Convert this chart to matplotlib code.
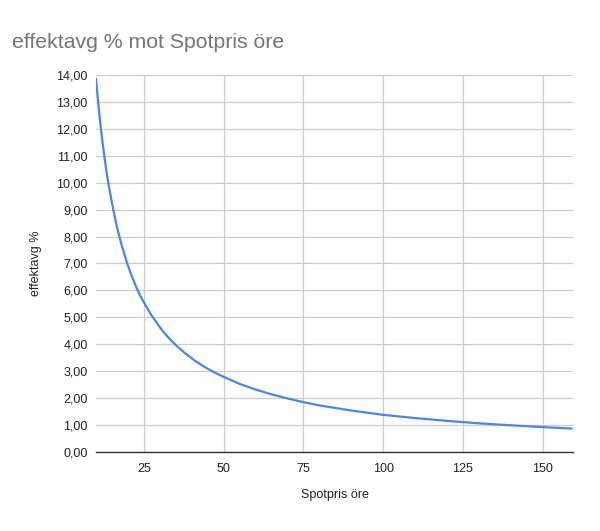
import matplotlib.pyplot as plt
from matplotlib.ticker import FuncFormatter

plt.rcParams['font.family'] = ['Liberation Sans', 'DejaVu Sans']

# values
spotpris = [10, 10.5, 11, 11.5, 12, 12.5, 13, 13.5, 14, 15, 16, 17, 18, 19, 20, 21, 22,
            23, 24, 25, 27, 29, 31, 33, 35, 38, 41, 44, 47, 50, 55, 60, 65, 70, 75, 80,
            90, 100, 110, 120, 130, 140, 150, 159]
effektavg = [13.85, 13.2, 12.6, 12.05, 11.55, 11.1, 10.65, 10.25, 9.9, 9.25, 8.66, 8.15,
             7.7, 7.3, 6.93, 6.6, 6.3, 6.02, 5.77, 5.56, 5.15, 4.8, 4.48, 4.21, 3.97,
             3.66, 3.39, 3.16, 2.96, 2.79, 2.53, 2.32, 2.14, 1.99, 1.85, 1.73, 1.54,
             1.38, 1.26, 1.155, 1.065, 0.99, 0.925, 0.87]

x_ticks = [25, 50, 75, 100, 125, 150]
y_ticks = list(range(0, 15))

fig = plt.figure(figsize=(6, 5.31), dpi=100)
ax = fig.add_axes([0.16, 0.1488, 0.795, 0.71])

ax.plot(spotpris, effektavg, color='#4a86e8', linewidth=1.6,
        solid_joinstyle='round')

ax.set_xlim(10, 159.5)
ax.set_ylim(0, 14)
ax.set_xticks(x_ticks)
ax.set_yticks(y_ticks)
ax.yaxis.set_major_formatter(FuncFormatter(lambda v, p: f'{v:.2f}'.replace('.', ',')))

ax.grid(True, color='#cccccc', linewidth=0.9)
ax.set_axisbelow(True)
for side in ['top', 'right', 'left']:
    ax.spines[side].set_visible(False)
ax.spines['bottom'].set_color('#333333')
ax.spines['bottom'].set_linewidth(1.0)
ax.tick_params(length=0, labelsize=9, colors='#222222', pad=6)
ax.tick_params(axis='x', pad=8)

ax.set_xlabel('Spotpris öre', fontsize=9, color='#222222', labelpad=10)
ax.set_ylabel('effektavg %', fontsize=9, color='#222222', labelpad=10)

fig.text(0.02, 0.91, 'effektavg % mot Spotpris öre', fontsize=15.3, color='#757575')

fig.savefig('out.png', dpi=100)
